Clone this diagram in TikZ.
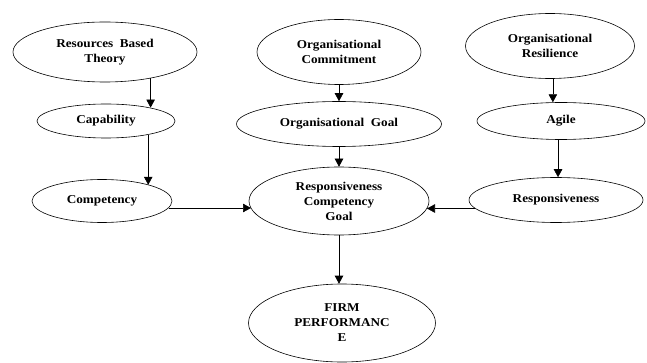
\documentclass[tikz,border=0pt]{standalone}
\usepackage{fontspec}
\setmainfont{Liberation Serif}[FakeStretch=1.1]
\usetikzlibrary{shapes.geometric,arrows.meta}
\begin{document}
\begin{tikzpicture}[x=1pt,y=-1pt,line width=0.6pt,
 font=\fontsize{12}{15}\selectfont\bfseries,
 oval/.style={draw,ellipse,inner sep=0pt,align=center},
 arr/.style={-{Triangle[length=8pt,width=8.5pt]}}]
\useasboundingbox (0,0) rectangle (647,363);
\node[oval,minimum width=184pt,minimum height=60pt] (rbt) at (105,52) {Resources~ Based\\Theory};
\node[oval,minimum width=138pt,minimum height=34pt] (cap) at (106,121) {Capability};
\node[oval,minimum width=140pt,minimum height=43pt] (comp) at (102,201) {Competency};
\node[oval,minimum width=164pt,minimum height=65pt] (orgc) at (339,52) {Organisational\\Commitment};
\node[oval,minimum width=205pt,minimum height=45pt] (orgg) at (339,124) {Organisational~ Goal};
\node[oval,minimum width=180pt,minimum height=68pt] (rcg) at (339,201) {Responsiveness\\Competency\\Goal};
\node[oval,minimum width=187pt,minimum height=78pt] (firm) at (342,323) {FIRM\\PERFORMANC\\E};
\node[oval,minimum width=169pt,minimum height=65pt] (orgr) at (550,46) {Organisational\\Resilience};
\node[oval,minimum width=168pt,minimum height=37pt] (agile) at (561,121) {Agile};
\node[oval,minimum width=174pt,minimum height=45pt] (resp) at (556,200) {Responsiveness};
\draw[arr] (rbt.-30) -- (rbt.-30 |- cap.17);
\draw[arr] (cap.-18) -- (cap.-18 |- comp.19);
\draw[arr] (orgc.south) -- (orgg.north);
\draw[arr] (orgg.south) -- (rcg.north);
\draw[arr] (rcg.south) -- (rcg.south |- firm.north);
\draw[arr] (orgr.-85) -- (orgr.-85 |- agile.113);
\draw[arr] (agile.-99) -- (agile.-99 |- resp.85);
\draw[arr] (comp.-6) -- (comp.-6 -| rcg.-175);
\draw[arr] (resp.-174) -- (resp.-174 -| rcg.-5);
\end{tikzpicture}
\end{document}
